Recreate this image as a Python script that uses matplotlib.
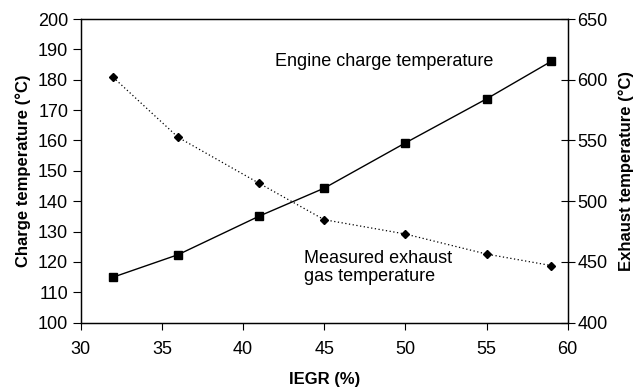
import matplotlib
matplotlib.use("Agg")
import matplotlib.pyplot as plt

plt.rcParams['font.family'] = ['Liberation Sans', 'DejaVu Sans']

iegr = [32, 36, 41, 45, 50, 55, 59]
charge_temp = [115, 122.4, 135.1, 144.3, 159.2, 173.7, 186.1]
exhaust_temp = [602, 552.6, 514.7, 484.8, 473, 456.5, 447]

x_ticks = [30, 35, 40, 45, 50, 55, 60]
left_ticks = list(range(100, 201, 10))
right_ticks = list(range(400, 651, 50))

fig = plt.figure(figsize=(6.42, 3.87), dpi=100)
ax = fig.add_axes([80.7 / 642, 1 - 322.7 / 387, (567.7 - 80.7) / 642, (322.7 - 19) / 387])
ax2 = ax.twinx()

ax.plot(iegr, charge_temp, color='black', lw=1.0, marker='s', ms=6,
        markerfacecolor='black', markeredgecolor='black', zorder=3)
ax2.plot(iegr, exhaust_temp, color='black', lw=0.9, linestyle=(0, (1, 2)),
         marker='D', ms=4.5, markerfacecolor='black', markeredgecolor='black', zorder=3)

ax.set_xlim(30, 60)
ax.set_ylim(100, 200)
ax2.set_ylim(400, 650)
ax.set_xticks(x_ticks)
ax.set_yticks(left_ticks)
ax2.set_yticks(right_ticks)

fs_tick = 13
fs_label = 12
fs_text = 13
ax.tick_params(axis='x', direction='out', length=5, width=0.8, labelsize=fs_tick, pad=8)
ax.tick_params(axis='y', direction='out', length=6, width=0.8, labelsize=fs_tick, pad=3)
ax2.tick_params(axis='y', direction='inout', length=10, width=0.8, labelsize=fs_tick, pad=2)

for a in (ax, ax2):
    for s in a.spines.values():
        s.set_linewidth(0.9)
        s.set_color('black')

ax.set_xlabel('IEGR (%)', fontsize=fs_label, fontweight='bold', labelpad=10)
ax.set_ylabel('Charge temperature (°C)', fontsize=fs_label, fontweight='bold', labelpad=5)
ax2.set_ylabel('Exhaust temperature (°C)', fontsize=fs_label, fontweight='bold', labelpad=8)

ax.text(275 / 642, 1 - 61.7 / 387, 'Engine charge temperature', transform=fig.transFigure,
        fontsize=fs_text, ha='left', va='center')
ax.text(304 / 642, 1 - 267.5 / 387, 'Measured exhaust\ngas temperature', transform=fig.transFigure,
        fontsize=fs_text, ha='left', va='center', linespacing=1.13)

fig.savefig('out.png', dpi=100)
